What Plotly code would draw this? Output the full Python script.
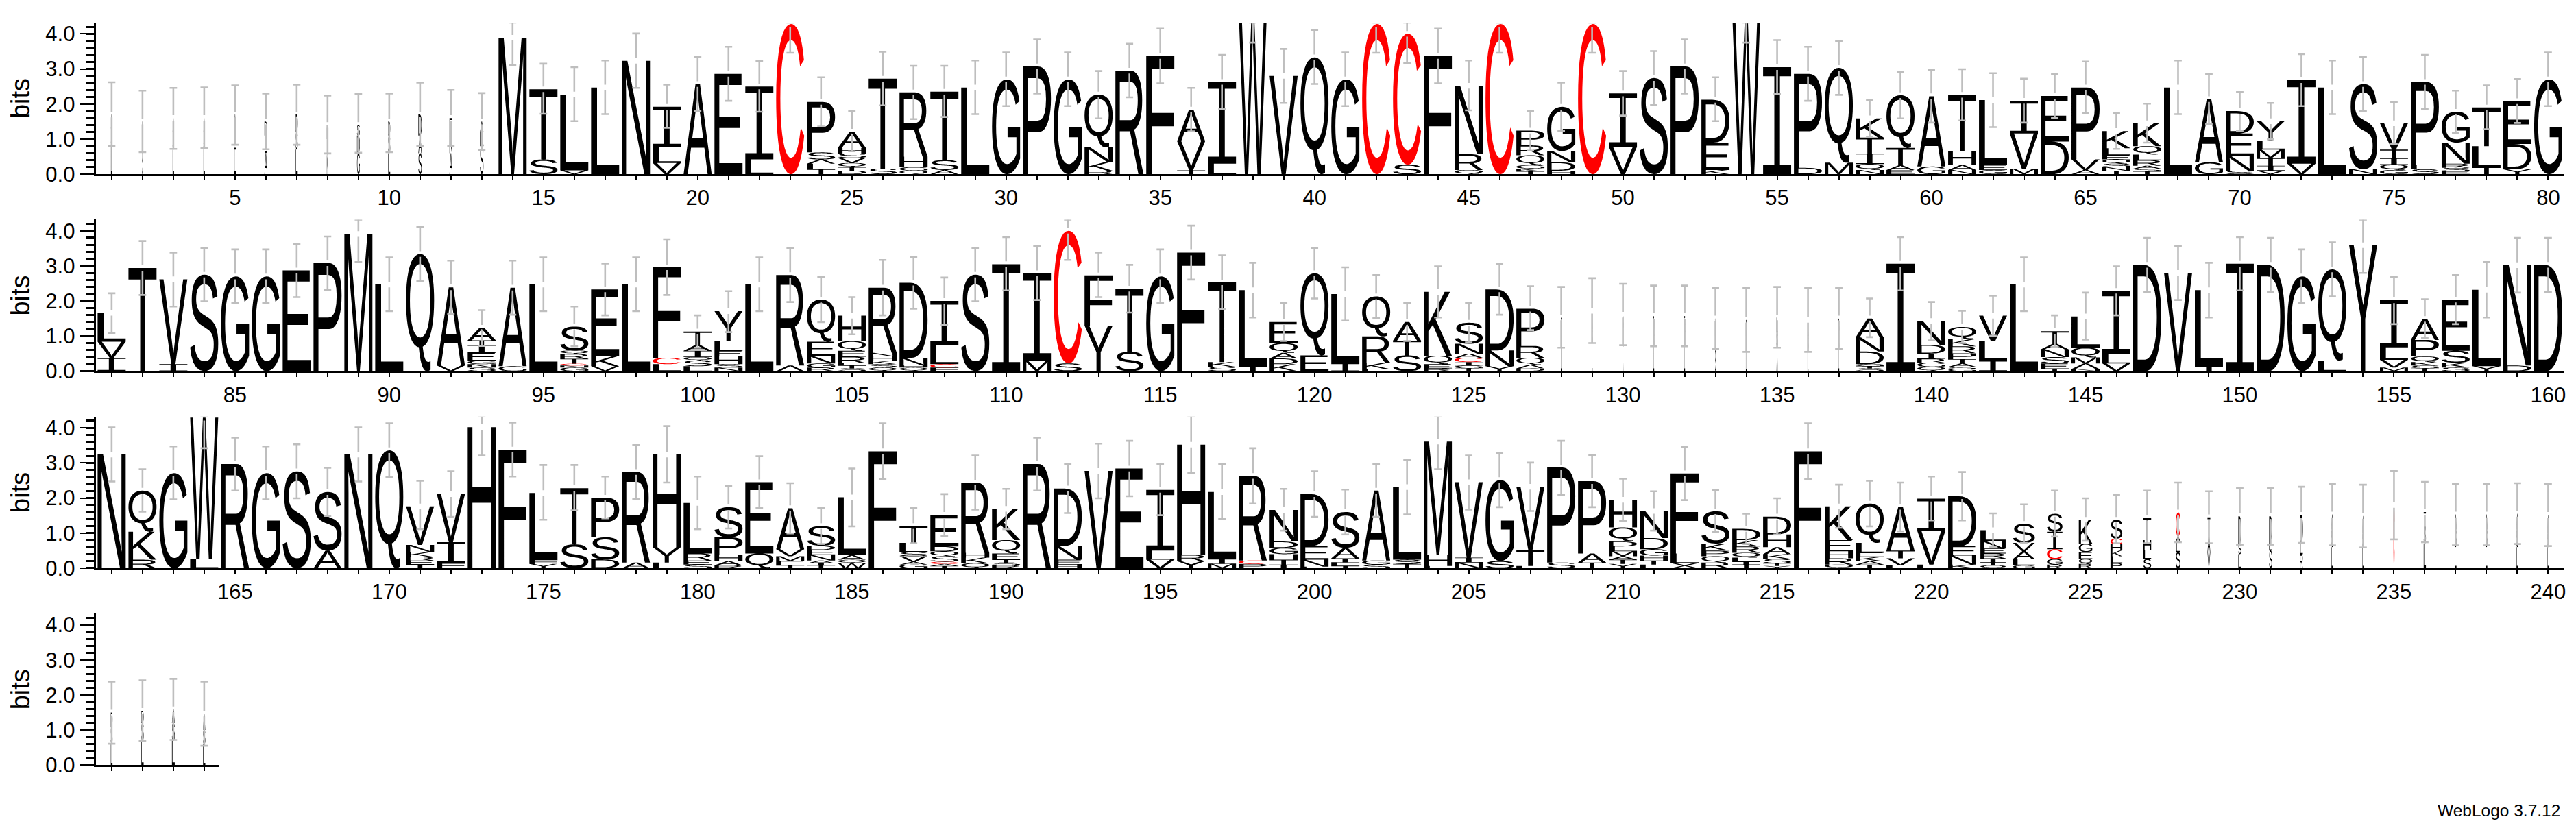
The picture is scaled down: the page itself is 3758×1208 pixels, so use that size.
import glob
import re
import struct

import plotly.graph_objects as go

# ---------------------------------------------------------------- data (bits)
STACKS_1_80 = [
    "L.8 S.5 A.4", "S.7 A.4 L.4", "L.7 S.5 A.4", "L.8 S.4 A.4", "L.7 E.5 A.5", "A.6 S.5 D.4", "L.7 S.5 D.5",
    "N.5 A.5 L.4", "G.6 D.5 S.3", "L.6 S.5 D.4", "S.6 A.5 D.6", "A.6 R.5 E.5", "S.8 L.4 A.3", "M3.89",
    "S.42 T2.0", "V.11 L2.16", "L2.47", "N3.23", "V.32 L.45 I1.15", "A2.57", "E2.86", "L.42 I2.08", "C4.28",
    "T.14 L.16 A.12 S.2 P1.44", "D.1 T.1 Q.12 V.14 S.13 H.16 A.46", "S.16 T2.56", "Q.1 G.1 H.3 R1.83",
    "A.12 S.28 T1.95", "L2.47", "G2.7", "P3.07", "G2.7", "R.1 K.25 N.42 Q1.5", "R2.95", "F3.37",
    "T.12 V.82 A.9", "L.3 I2.33", "W4.58", "V2.8", "Q3.33", "G2.7", "C4.28", "S.27 C3.73", "F3.37",
    "Q.12 R.45 N1.95", "C4.28", "T.08 K.08 G.1 Q.28 R.28 P.42", "H.1 D.24 N.32 G1.26", "C4.28", "V.78 I1.52",
    "S2.74", "P3.07", "K.12 E.78 D1.22", "W4.58", "I3.05", "D.18 P2.68", "M.33 Q2.7",
    "N.12 Q.17 I.3 T.45 K.55", "E.12 A.13 T.5 Q1.5", "G.22 A2.0", "N.12 A.14 H.4 T1.6", "G.12 E.14 L1.85",
    "M.16 V1.0 I.93", "D.93 E1.3", "A.12 V.3 P2.05", "T.1 N.1 S.1 Q.12 E.12 L.2 K.49",
    "T.08 S.08 A.08 R.16 L.16 Q.24 K.65", "L2.47", "G.34 A1.8", "S.1 N.42 E.64 D.64",
    "V.1 I.14 T.22 M.24 L.25 Y.56", "V.3 I2.38", "L2.47", "N.14 S2.43", "G.12 Q.15 I.18 T.25 V.75",
    "S.14 L.12 P2.37", "E.08 S.1 R.12 N.6 G.88", "T.2 L.6 T1.1", "Y.14 D.72 E1.22", "G2.7",
]
STACKS_81_160 = [
    "I.38 V.46 L.82", "T2.94", "I.2 V2.42", "S2.75", "G2.7", "G2.7", "E2.87", "P3.08", "M3.91", "L2.47", "Q3.34",
    "V.16 A2.23", "S.1 N.1 G.1 E.22 I.22 T.14 A.36", "G.14 A2.24", "L2.47", "G.1 N.06 C.05 T.14 R.14 Q.1 S.68",
    "V.14 K.28 E1.91", "L2.47", "L.2 C.18 F2.58", "L.14 S.16 Q.1 I.18 A.17 T.38", "N.1 S.1 H.22 E.16 L.28 Y.85",
    "L2.47", "A.16 R2.58", "R.1 G.12 N.22 E.4 Q1.2", "S.08 T.08 L.07 R.18 E.17 Q.28 H.72",
    "Q.1 S.1 K.1 H.12 N.1 R1.86", "Q.1 H.06 N.22 D2.14", "F.1 C.1 L.55 I1.25", "S2.75", "I3.05", "M.3 I2.49",
    "S.22 C3.78", "Y1.3 F1.43", "S.55 T1.8", "G2.7", "F3.38", "S.12 K.14 T2.27", "I.14 L2.17",
    "K.2 D.16 A.16 Q.28 E.6", "E.45 Q2.34", "I.22 L1.98", "L.06 K.18 R.75 Q1.14", "S.45 T.42 A.53",
    "R.08 E.12 Q.24 K1.82", "T.08 G.08 I.1 C.12 A.12 N.28 S.6", "Y.14 N.45 D1.74", "D.08 A.1 Q.2 R.34 P1.06",
    "L.7 A.4 S.43", "L.8 S.4 A.52", "A.7 L.5 S.41", "L.7 S.4 D.47", "L.7 A.4 E.47", "S.6 A.4 L.5", "L.6 A.4 D.46",
    "A.7 S.4 L.43", "L.6 S.4 A.46", "L.7 A.4 S.4", "S.08 T.06 G.06 D.36 N.4 A.54", "I3.06",
    "Q.12 G.12 R.11 I.15 D.25 N.68", "G.06 S.06 A.1 T.12 P.17 R.2 K.2 Q.35", "I.3 L.55 V.73", "L2.47",
    "T.06 E.16 S.18 N.22 A.16 T.36", "N.06 A.16 M.17 Q.28 L.89", "V.22 L.26 I1.81", "D3.03", "V2.8", "I.12 L2.19",
    "I3.06", "D3.03", "G2.7", "L.3 Q2.6", "Y3.59", "M.1 V.22 L.36 I1.34", "T.08 S.08 K.1 Q.16 P.47 A.6",
    "S.1 K.14 S.34 E1.46", "Y.14 L2.18", "D.16 N2.86", "D3.03",
]
STACKS_161_240 = [
    "N3.24", "R.24 K.8 Q1.17", "G2.71", "L.25 W4.04", "R2.97", "G2.71", "S2.76", "A.5 S1.67", "N3.24", "Q3.36",
    "T.1 E.12 R.1 K.14 N.2 V1.1", "F.14 I.6 V1.37", "H4.02", "F3.38", "Y.12 F.12 L1.9", "S.68 T1.6",
    "D.25 S.63 P1.13", "A.16 R2.58", "L.16 Y.44 H2.64", "S.1 E.12 R.2 L1.44", "R.08 A.12 H.18 P.5 S.86",
    "Q.42 E2.03", "T.08 E.12 M.14 V.2 A1.17", "T.08 I.06 A.08 N.16 E.14 D.12 S.56", "W.14 Q.1 A.13 L1.65", "F3.33",
    "G.1 A.08 V.16 S.12 L.26 T.48", "T.06 A.06 C.06 S.16 Q.14 D.14 E.9", "Q.14 K.16 H.14 R2.0",
    "R.08 S.08 T.08 E.18 Q.38 K.89", "R2.97", "H.1 E.14 N.4 D1.63", "V2.77", "E2.84", "V.24 L.26 I1.73",
    "Y.2 R.18 H3.14", "M.12 I.14 L1.91", "P.12 C.1 R2.41", "I.1 T.14 H.16 G.18 D.18 N.9", "L.04 N.2 E.4 D1.47",
    "T.06 L.1 I.12 A.3 S1.02", "S.1 G.12 A1.99", "T.12 S.12 L2.07", "L.06 H.32 M3.23", "N.16 I.14 V2.15",
    "S.2 G2.31", "L.06 T.45 V1.81", "S.16 P2.71", "T.16 A.26 P2.06", "Y.12 T.12 A.1 M.14 L.14 D.14 Q.4 H.79",
    "L.1 T.12 H.14 G.18 D.32 N.77", "X.14 L.28 F2.28", "R.16 Q.18 P.16 K.2 S.92", "T.1 I.08 L.12 Q.14 R.18 K.18 D.32",
    "Y.06 T.08 S.12 K.14 A.2 H.36 D.51", "F3.33", "Q.1 R.18 H.2 E.32 K.96", "T.1 A.1 K.12 E.12 L.28 Q1.12",
    "L.08 V.2 T.22 A1.25", "L.1 V.96 I.92", "K.1 N.26 E.27 D1.42", "Q.08 T.08 I.12 R.14 E.14 N.22 L.3",
    "G.08 L.18 A.22 V.24 S.54", "R.1 G.16 C.28 I.5 S.51", "R.12 Q.14 E.2 G.24 K.68", "P.14 L.2 K.16 H.18 C.16 S.54",
    "S.26 L.26 H.28 T.64", "S.46 L.3 A.15 C.68", "V.45 A.5 T.5", "L.4 S.3 D.78", "S.5 L.3 D.68", "R.4 L.3 D.82",
    "L.6 S.5 A.43", "L.6 S.4 A.49", "C1.8", "L.7 S.5 T.4", "L.6 S.5 A.43", "L.6 S.5 A.43", "L.6 S.5 A.45",
    "L.6 S.4 A.52",
]
STACKS_241_244 = ["L.6 S.5 D.4", "L.7 S.5 D.35", "L.7 S.5 A.39", "L.6 S.4 A.47"]

ERR_HIGH = [
    2.62, 2.38, 2.46, 2.47, 2.53, 2.30, 2.55, 2.24, 2.28, 2.30, 2.61, 2.40, 2.31, 4.32, 3.15, 3.05, 3.24, 4.01, 2.55, 3.34,
    3.63, 3.22, 4.32, 2.76, 1.80, 3.49, 3.09, 3.09, 3.24, 3.47, 3.84, 3.47, 2.94, 3.72, 4.15, 2.46, 3.40, 4.32, 3.57, 4.11,
    3.47, 4.32, 4.32, 4.15, 3.24, 4.32, 1.80, 2.61, 4.32, 2.94, 3.51, 3.84, 2.76, 4.32, 3.82, 3.63, 3.80, 2.11, 2.92, 2.97,
    2.99, 2.88, 2.72, 2.86, 3.21, 1.74, 2.01, 3.24, 2.86, 2.34, 2.03, 3.42, 3.24, 3.34, 2.05, 3.40, 2.38, 2.53, 2.71, 3.47,
    2.22, 3.71, 3.38, 3.51, 3.47, 3.47, 3.63, 3.84, 4.32, 3.24, 4.11, 3.15, 1.74, 3.15, 3.24, 1.84, 3.07, 3.24, 3.76, 1.59,
    2.28, 3.24, 3.51, 2.69, 2.11, 3.17, 3.26, 2.67, 3.51, 3.82, 3.57, 4.32, 3.38, 3.03, 3.47, 4.15, 3.30, 3.09, 1.94, 3.51,
    2.96, 2.74, 1.94, 2.99, 1.94, 3.05, 2.42, 2.40, 2.65, 2.49, 2.44, 2.44, 2.38, 2.38, 2.40, 2.38, 2.38, 2.07, 3.82, 1.97,
    1.72, 2.15, 3.24, 1.59, 2.24, 2.99, 3.80, 3.57, 3.09, 3.82, 3.80, 3.47, 3.67, 4.32, 2.69, 2.05, 2.74, 3.11, 3.80, 3.80,
    4.01, 2.82, 3.47, 4.32, 3.72, 3.47, 3.53, 2.86, 4.01, 4.13, 2.49, 2.76, 4.32, 4.15, 2.94, 2.94, 2.61, 3.51, 4.05, 2.61,
    2.34, 3.19, 2.42, 1.72, 2.84, 4.13, 1.72, 2.11, 3.21, 2.26, 3.72, 2.97, 3.55, 3.63, 2.96, 4.32, 2.97, 3.42, 2.26, 2.76,
    2.24, 2.97, 3.09, 4.32, 3.21, 3.28, 3.01, 3.63, 3.22, 2.55, 2.19, 3.46, 2.22, 1.55, 1.99, 4.13, 2.38, 2.49, 2.44, 2.61,
    2.74, 1.56, 1.82, 2.21, 1.99, 2.09, 2.21, 2.44, 2.19, 2.28, 2.28, 2.32, 2.40, 2.38, 2.78, 2.46, 2.40, 2.40, 2.42, 2.40,
    2.38, 2.42, 2.46, 2.38,
]
ERR_LOW = [
    0.80, 0.63, 0.72, 0.74, 0.84, 0.71, 0.84, 0.59, 0.61, 0.63, 0.80, 0.80, 0.69, 3.11, 1.72, 1.51, 1.71, 2.46, 1.32, 1.80,
    2.09, 1.78, 3.46, 1.36, 0.65, 1.96, 1.57, 1.63, 1.71, 1.94, 2.30, 1.94, 1.59, 2.19, 2.59, 1.22, 1.86, 3.75, 2.03, 2.57,
    1.94, 3.46, 3.17, 2.59, 1.82, 3.46, 0.67, 1.24, 3.46, 1.67, 1.97, 2.30, 1.51, 3.75, 2.28, 2.09, 2.26, 1.07, 1.59, 1.47,
    1.53, 1.34, 1.47, 1.61, 1.74, 0.72, 0.90, 1.71, 1.42, 1.24, 0.99, 1.94, 1.71, 1.80, 0.86, 1.86, 1.17, 1.28, 1.46, 1.94,
    1.09, 2.17, 1.84, 1.99, 1.94, 1.94, 2.11, 2.32, 3.11, 1.71, 2.57, 1.63, 0.72, 1.61, 1.71, 0.71, 1.59, 1.71, 2.17, 0.67,
    1.11, 1.71, 1.97, 1.40, 1.05, 1.59, 1.78, 1.32, 1.99, 2.30, 2.03, 3.17, 2.11, 1.67, 1.94, 2.61, 1.76, 1.53, 0.86, 2.07,
    1.44, 1.51, 0.86, 1.53, 0.82, 1.61, 1.17, 0.67, 0.80, 0.74, 0.71, 0.71, 0.63, 0.55, 0.67, 0.55, 0.63, 0.97, 2.30, 0.88,
    0.80, 1.01, 1.71, 0.69, 0.90, 1.59, 2.26, 2.03, 1.53, 2.30, 2.26, 1.94, 2.13, 2.80, 1.34, 0.94, 1.34, 1.53, 2.24, 2.26,
    2.47, 1.61, 1.96, 3.42, 2.21, 1.96, 1.99, 1.49, 2.47, 2.59, 1.11, 1.46, 3.21, 2.61, 1.38, 1.65, 1.42, 1.97, 2.44, 1.11,
    1.13, 1.71, 0.99, 0.69, 1.19, 2.53, 0.71, 0.92, 1.67, 1.11, 2.21, 1.57, 1.99, 2.05, 1.51, 2.71, 1.40, 1.84, 1.07, 1.46,
    0.96, 1.46, 1.53, 2.82, 1.67, 1.74, 1.63, 2.09, 1.74, 1.34, 1.07, 1.94, 1.03, 0.69, 0.96, 2.53, 1.15, 1.19, 1.05, 1.36,
    1.36, 0.61, 0.72, 0.90, 0.78, 0.71, 0.71, 0.74, 0.71, 0.67, 0.67, 0.72, 0.65, 0.59, 0.82, 0.74, 0.65, 0.65, 0.69, 0.63,
    0.61, 0.69, 0.72, 0.55,
]
# Stack width (share of a full column) where the column is mostly gaps.
COLUMN_SHARE = {
    1: .05, 2: .03, 3: .05, 4: .05, 5: .06, 6: .1, 7: .07, 8: .05, 9: .1, 10: .07, 11: .12, 12: .1, 13: .12,
    128: .03, 129: .03, 130: .03, 131: .03, 132: .03, 133: .03, 134: .03, 135: .04, 136: .03, 137: .03,
    222: .9, 223: .78, 224: .55, 225: .48, 226: .42, 227: .28, 228: .16, 229: .1, 230: .1, 231: .1, 232: .1,
    233: .06, 234: .05, 235: .04, 236: .08, 237: .06, 238: .06, 239: .06, 240: .05,
    241: .06, 242: .08, 243: .1, 244: .08,
}
COLOURS = {"C": "#ff0000"}
X_TICK_STEP = 5
Y_TICKS = [0, 1, 2, 3, 4]
Y_MAX = 4.32
ROWS = [(1, 80), (81, 160), (161, 240), (241, 244)]
ALL_STACKS = STACKS_1_80 + STACKS_81_160 + STACKS_161_240 + STACKS_241_244


# ---------------------------------------------------------------- glyph outlines
def load_outlines(letters):
    """Read letter outlines (unit box) from Liberation Sans, the Helvetica-metric font."""
    paths = glob.glob("/usr/share/fonts/**/LiberationSans-Regular.ttf", recursive=True)
    data = open(paths[0], "rb").read()
    n = struct.unpack(">H", data[4:6])[0]
    tab = {}
    for i in range(n):
        rec = data[12 + 16 * i: 28 + 16 * i]
        tab[rec[:4].decode()] = struct.unpack(">I", rec[8:12])[0]
    long_loca = struct.unpack(">h", data[tab["head"] + 50: tab["head"] + 52])[0]
    cm = tab["cmap"]
    sub = None
    for i in range(struct.unpack(">H", data[cm + 2: cm + 4])[0]):
        pid, eid, off = struct.unpack(">HHI", data[cm + 4 + 8 * i: cm + 12 + 8 * i])
        if struct.unpack(">H", data[cm + off: cm + off + 2])[0] == 4:
            sub = cm + off
            if pid == 3:
                break
    segx2 = struct.unpack(">H", data[sub + 6: sub + 8])[0]
    seg = segx2 // 2

    def arr(o, fmt="H"):
        return struct.unpack(">" + fmt * seg, data[o: o + segx2])

    ends = arr(sub + 14)
    starts = arr(sub + 16 + segx2)
    deltas = arr(sub + 16 + 2 * segx2, "h")
    rng_at = sub + 16 + 3 * segx2
    rngs = arr(rng_at)

    def gid(ch):
        c = ord(ch)
        for i in range(seg):
            if starts[i] <= c <= ends[i]:
                if rngs[i] == 0:
                    return (c + deltas[i]) & 0xFFFF
                p = rng_at + 2 * i + rngs[i] + 2 * (c - starts[i])
                return (struct.unpack(">H", data[p: p + 2])[0] + deltas[i]) & 0xFFFF
        return 0

    def outline(ch):
        g = gid(ch)
        if long_loca:
            a = struct.unpack(">I", data[tab["loca"] + 4 * g: tab["loca"] + 4 * g + 4])[0]
        else:
            a = 2 * struct.unpack(">H", data[tab["loca"] + 2 * g: tab["loca"] + 2 * g + 2])[0]
        p = tab["glyf"] + a
        nc = struct.unpack(">h", data[p: p + 2])[0]
        x0, y0, x1, y1 = struct.unpack(">4h", data[p + 2: p + 10])
        p += 10
        cend = struct.unpack(">" + "H" * nc, data[p: p + 2 * nc])
        p += 2 * nc
        p += 2 + struct.unpack(">H", data[p: p + 2])[0]
        npts = cend[-1] + 1
        flags = []
        while len(flags) < npts:
            f = data[p]
            p += 1
            flags.append(f)
            if f & 8:
                flags += [f] * data[p]
                p += 1
        def coords(short, same):
            nonlocal p
            out, v = [], 0
            for f in flags:
                if f & short:
                    d = data[p]
                    p += 1
                    v += d if f & same else -d
                elif not f & same:
                    v += struct.unpack(">h", data[p: p + 2])[0]
                    p += 2
                out.append(v)
            return out
        xs = coords(2, 16)
        ys = coords(4, 32)
        contours, s = [], 0
        for e in cend:
            pts = [(xs[i], ys[i], flags[i] & 1) for i in range(s, e + 1)]
            s = e + 1
            full = []
            for i, q in enumerate(pts):
                full.append(q)
                r = pts[(i + 1) % len(pts)]
                if not q[2] and not r[2]:
                    full.append(((q[0] + r[0]) / 2, (q[1] + r[1]) / 2, 1))
            k = next(i for i, q in enumerate(full) if q[2])
            full = full[k:] + full[:k]
            poly, i = [], 0
            while i < len(full):
                a0 = full[i]
                b0 = full[(i + 1) % len(full)]
                if b0[2]:
                    poly.append((a0[0], a0[1]))
                    i += 1
                else:
                    c0 = full[(i + 2) % len(full)]
                    for t in (0, .2, .4, .6, .8):
                        u = 1 - t
                        poly.append((u * u * a0[0] + 2 * u * t * b0[0] + t * t * c0[0],
                                     u * u * a0[1] + 2 * u * t * b0[1] + t * t * c0[1]))
                    i += 2
            contours.append([((px - x0) / (x1 - x0), (py - y0) / (y1 - y0)) for px, py in poly])
        return contours

    return {ch: outline(ch) for ch in letters}


OUTLINES = load_outlines("ACDEFGHKLMNPQRSTVWXY")
# The logo's capital I carries slab serifs, which the font's I does not have.
OUTLINES["I"] = [[(0, 0), (1, 0), (1, .085), (.6, .085), (.6, .915), (1, .915), (1, 1), (0, 1), (0, .915),
                  (.4, .915), (.4, .085), (0, .085)]]

FULL_WIDTH = 0.91
GAP = 0.08
CAP = 0.12
TOKEN = re.compile(r"([A-Z])(\d*\.?\d+)")

# ---------------------------------------------------------------- figure
fig = go.Figure()
W, H = 3758, 1208
X0, STEP = 132.5, 45.03
BASES = [249, 541, 833, 1125]
PX_PER_BIT = 52.0
ax_common = dict(showgrid=False, zeroline=False, linecolor="black", color="black")

for idx, (first, last) in enumerate(ROWS):
    xname, yname = ("x", "y") if idx == 0 else (f"x{idx + 1}", f"y{idx + 1}")
    fills = {}
    err_x, err_y = [], []
    for pos in range(first, last + 1):
        share = COLUMN_SHARE.get(pos, 1.0) * FULL_WIDTH
        base = 0.0
        for letter, height in TOKEN.findall(ALL_STACKS[pos - 1]):
            height = float(height)
            colour = COLOURS.get(letter, "#000000")
            bx, by = fills.setdefault(colour, ([], []))
            for contour in OUTLINES[letter]:
                for px, py in contour:
                    bx.append(pos + (px - .5) * share)
                    by.append(base + py * height)
                bx.append(None)
                by.append(None)
            base += height
        hi, lo = ERR_HIGH[pos - 1], ERR_LOW[pos - 1]
        err_x += [pos - CAP, pos + CAP, None, pos, pos, None]
        err_y += [hi, hi, None, hi, base + GAP, None]
        err_x += [pos, pos, None, pos - CAP, pos + CAP, None]
        err_y += [base - GAP, lo, None, lo, lo, None]
    for colour, (bx, by) in fills.items():
        fig.add_trace(go.Scatter(x=bx, y=by, xaxis=xname, yaxis=yname, mode="lines", fill="toself",
                                 fillcolor=colour, line=dict(width=0, color=colour, simplify=False),
                                 hoverinfo="skip", showlegend=False, cliponaxis=False))
    fig.add_trace(go.Scatter(x=err_x, y=err_y, xaxis=xname, yaxis=yname, mode="lines",
                             line=dict(width=2.6, color="#bebebe", simplify=False),
                             hoverinfo="skip", showlegend=False, cliponaxis=False))

    tickvals = list(range(first, last + 1))
    ticktext = [str(v) if v % X_TICK_STEP == 0 else "" for v in tickvals]
    right = X0 + (last - first + 1) * STEP
    bottom = BASES[idx]
    top = bottom - Y_MAX * PX_PER_BIT
    suffix = "" if idx == 0 else str(idx + 1)
    fig.update_layout({
        f"xaxis{suffix}": dict(
            ax_common, domain=[X0 / W, right / W], range=[first - .5, last + .5], anchor=yname,
            tickmode="array", tickvals=tickvals, ticktext=ticktext, ticks="outside", ticklen=6, tickwidth=2,
            tickcolor="black", linewidth=3, showline=True, tickangle=0,
            tickfont=dict(family="Liberation Sans", size=31, color="black"), ticklabelstandoff=-1),
        f"yaxis{suffix}": dict(
            ax_common, domain=[1 - bottom / H, 1 - top / H], range=[0, Y_MAX], anchor=xname,
            tickmode="array", tickvals=Y_TICKS, tickformat=".1f", ticks="outside", ticklen=22, tickwidth=2,
            tickcolor="black", linewidth=2.5, showline=True,
            minor=dict(tickmode="linear", tick0=0, dtick=.2, ticks="outside", ticklen=12, tickwidth=3, tickcolor="black"),
            tickfont=dict(family="Liberation Sans", size=31, color="black"),
            title=dict(text="bits", standoff=12, font=dict(family="Liberation Sans", size=38, color="black"))),
    })

fig.add_annotation(text="WebLogo 3.7.12", xref="paper", yref="paper", x=3732 / W, y=1 - 1192 / H, xanchor="right",
                   yanchor="middle", showarrow=False, font=dict(family="Liberation Sans", size=24.5, color="black"))
fig.update_layout(width=W, height=H, margin=dict(l=0, r=0, t=0, b=0), paper_bgcolor="white", plot_bgcolor="white",
                  showlegend=False)
fig.write_html("out.html")
